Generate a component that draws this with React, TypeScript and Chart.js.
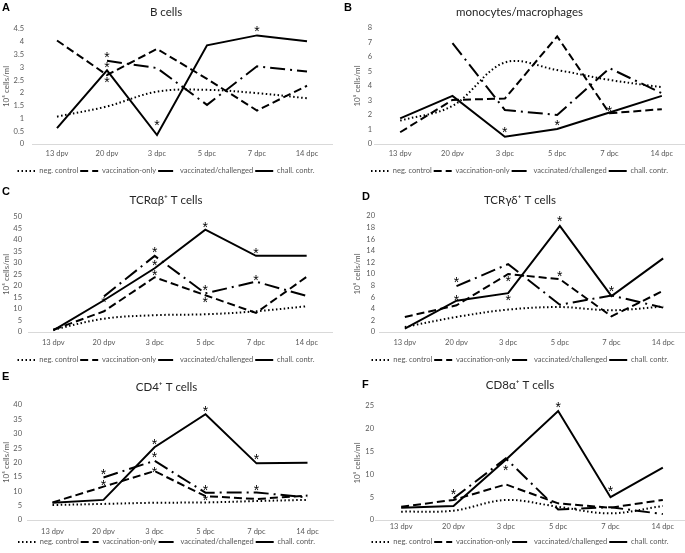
import React, { useEffect, useRef } from "react";
import { Chart, registerables } from "chart.js";
Chart.register(...registerables);

const categories = ["13 dpv", "20 dpv", "3 dpc", "5 dpc", "7 dpc", "14 dpc"];
const seriesNames = ["neg. control", "vaccination-only", "vaccinated/challenged", "chall. contr."];
const yAxisTitle = "10\u2075 cells/ml";

// A: B cells
const bNeg = [1.07, 1.47, 2.05, 2.12, 1.99, 1.79];
const bVacc = [4.05, 2.7, 3.72, 2.55, 1.31, 2.28];
const bVacChal = [null, 3.26, 2.97, 1.53, 3.04, 2.84];
const bChall = [0.62, 2.88, 0.35, 3.86, 4.25, 4.02];
const bStars = [[1, 3.49], [1, 3.1], [1, 2.51], [2, 0.81], [4, 4.5]];

// B: monocytes/macrophages
const mNeg = [1.61, 2.63, 5.62, 5.1, 4.42, 3.92];
const mVacc = [0.81, 3.04, 3.13, 7.42, 2.12, 2.4];
const mVacChal = [null, 6.96, 2.35, 2.0, 5.23, 3.5];
const mChall = [1.77, 3.32, 0.5, 1.04, 2.17, 3.32];
const mStars = [[2, 0.97], [3, 1.45], [4, 2.4]];

// C: TCRab+ T cells
const abNeg = [1.0, 5.8, 7.3, 7.7, 9.0, 11.2];
const abVacc = [1.0, 9.0, 23.8, 16.0, 8.3, 24.0];
const abVacChal = [null, 15.5, 33.1, 16.8, 21.9, 15.7];
const abChall = [0.7, 13.8, 27.7, 44.5, 33.1, 33.1];
const abStars = [[1, 14.1], [2, 35.7], [2, 29.9], [2, 25.5], [3, 46.6], [3, 19.0], [3, 13.8], [4, 35.3], [4, 23.6]];

// D: TCRgd+ T cells
const gdNeg = [0.86, 2.6, 3.86, 4.3, 3.75, 4.4];
const gdVacc = [2.6, 4.6, 10.0, 9.1, 2.7, 7.1];
const gdVacChal = [null, 7.9, 11.7, 4.7, 6.3, 4.2];
const gdChall = [0.6, 5.4, 6.7, 18.3, 6.2, 12.7];
const gdStars = [[1, 9.05], [1, 5.94], [2, 9.1], [2, 5.94], [3, 19.4], [3, 9.97], [4, 7.4]];

// E: CD4+ T cells
const cd4Neg = [5.2, 5.6, 6.0, 6.1, 6.6, 7.0];
const cd4Vacc = [6.1, 11.6, 17.0, 8.3, 7.3, 8.5];
const cd4VacChal = [null, 14.8, 20.6, 9.5, 9.6, 7.8];
const cd4Chall = [6.0, 7.0, 25.3, 36.8, 19.7, 19.9];
const cd4Stars = [[1, 16.8], [1, 12.75], [2, 27.2], [2, 22.6], [2, 17.4], [3, 38.5], [3, 11.2], [3, 7.8], [4, 21.8], [4, 11.2]];

// F: CD8a+ T cells
const cd8Neg = [1.83, 2.05, 4.4, 2.9, 1.46, 3.07];
const cd8Vacc = [2.9, 4.4, 7.8, 3.65, 2.7, 4.4];
const cd8VacChal = [null, 4.75, 13.5, 2.3, 2.8, 1.3];
const cd8Chall = [2.7, 3.07, 13.2, 23.9, 5.0, 11.5];
const cd8Stars = [[1, 6.2], [2, 11.5], [3, 25.2], [4, 6.8]];

const FONT = "Lato, 'Liberation Sans', sans-serif";
const GREY = "#595959";

const dashes = [[1.5, 2.5], [8, 4], [15, 5, 2, 5], []];

// layout: canvas box, padding, title gap, y-axis width, x-axis height, tick paddings
const panels = [
  { letter: "A", title: "B cells", series: [bNeg, bVacc, bVacChal, bChall], stars: bStars, max: 4.5, step: 0.5,
    left: 0, top: 0, w: 340, h: 180, pad: { left: 0, right: 8, top: 5, bottom: 0.75 }, tgap: 10.2, yw: 32, xh: 21.25, ytp: 8, xtp: 5.5, lx: 2, ly: 1 },
  { letter: "B", title: "monocytes/macrophages", series: [mNeg, mVacc, mVacChal, mChall], stars: mStars, max: 8, step: 1,
    left: 349, top: 0, w: 341, h: 180, pad: { left: 2, right: 2, top: 5, bottom: 0.75 }, tgap: 9.2, yw: 23, xh: 21.25, ytp: 2, xtp: 5.5, lx: 344, ly: 1 },
  { letter: "C", title: "TCR\u03b1\u03b2\u207a T cells", series: [abNeg, abVacc, abVacChal, abChall], stars: abStars, max: 50, step: 5,
    left: 0, top: 180, w: 340, h: 190, pad: { left: 0, right: 8, top: 13, bottom: 1.75 }, tgap: 10.2, yw: 28, xh: 22.25, ytp: 6, xtp: 6.5, lx: 2, ly: 185 },
  { letter: "D", title: "TCR\u03b3\u03b4\u207a T cells", series: [gdNeg, gdVacc, gdVacChal, gdChall], stars: gdStars, max: 20, step: 2,
    left: 349, top: 180, w: 341, h: 190, pad: { left: 2, right: 1, top: 13, bottom: 1.75 }, tgap: 9.2, yw: 28, xh: 22.25, ytp: 4, xtp: 6.5, lx: 362, ly: 190 },
  { letter: "E", title: "CD4\u207a T cells", series: [cd4Neg, cd4Vacc, cd4VacChal, cd4Chall], stars: cd4Stars, max: 40, step: 5,
    left: 0, top: 370, w: 340, h: 183, pad: { left: 0, right: 7, top: 10, bottom: 2.75 }, tgap: 11.2, yw: 27, xh: 16.25, ytp: 5, xtp: 7.5, lx: 2, ly: 370 },
  { letter: "F", title: "CD8\u03b1\u207a T cells", series: [cd8Neg, cd8Vacc, cd8VacChal, cd8Chall], stars: cd8Stars, max: 25, step: 5,
    left: 349, top: 370, w: 341, h: 183, pad: { left: 2, right: 1, top: 8, bottom: 2.75 }, tgap: 14.2, yw: 24, xh: 16.25, ytp: 1, xtp: 2.5, lx: 362, ly: 378 },
];

const starPlugin = {
  id: "stars",
  afterDatasetsDraw(chart: any, _args: any, opts: any) {
    const stars = opts.points || [];
    const ctx = chart.ctx;
    const xs = chart.scales.x;
    const ys = chart.scales.y;
    ctx.save();
    ctx.font = "14px 'Liberation Sans', sans-serif";
    ctx.fillStyle = "#000";
    ctx.textAlign = "center";
    ctx.textBaseline = "alphabetic";
    const m = ctx.measureText("*");
    const off = (m.actualBoundingBoxAscent - m.actualBoundingBoxDescent) / 2;
    for (const [i, v] of stars) {
      const x = xs.getPixelForValue(i);
      const y = ys.getPixelForValue(v);
      ctx.fillText("*", x, y + off);
    }
    ctx.restore();
  },
};

function Panel({ p }: { p: any }) {
  const ref = useRef<HTMLCanvasElement>(null);
  useEffect(() => {
    const tickFont = { family: FONT, size: 7.5 };
    const chart = new Chart(ref.current as HTMLCanvasElement, {
      type: "line",
      data: {
        labels: categories,
        datasets: p.series.map((d: any, i: number) => ({
          label: seriesNames[i],
          data: d,
          borderColor: "#000",
          backgroundColor: "#000",
          borderWidth: 2,
          borderDash: dashes[i],
          pointRadius: 0,
          tension: i === 0 ? 0.35 : 0,
          fill: false,
        })),
      },
      options: {
        animation: false,
        responsive: false,
        layout: { padding: p.pad },
        plugins: {
          title: { display: true, text: p.title, color: "#262626", font: { family: FONT, size: 11.5, weight: "normal" }, padding: { top: 0, bottom: p.tgap } },
          legend: {
            position: "bottom",
            maxHeight: 14,
            labels: {
              usePointStyle: true,
              pointStyleWidth: 18,
              boxHeight: 7,
              padding: 2,
              color: GREY,
              font: { family: FONT, size: 7.5 },
              generateLabels: (chart: any) =>
                chart.data.datasets.map((ds: any, i: number) => ({
                  text: ds.label,
                  fillStyle: "#000",
                  strokeStyle: "#000",
                  lineWidth: 2,
                  lineDash: ds.borderDash,
                  lineCap: "butt",
                  pointStyle: "line",
                  fontColor: GREY,
                  hidden: false,
                  datasetIndex: i,
                })),
            },
          },
          tooltip: { enabled: false },
          stars: { points: p.stars },
        } as any,
        scales: {
          x: {
            type: "category",
            offset: true,
            grid: { display: false, drawTicks: false },
            border: { display: true, color: "#d9d9d9", width: 1 },
            ticks: { font: tickFont, color: GREY, padding: p.xtp, maxRotation: 0 },
            afterFit: (s: any) => { s.height = p.xh; },
          },
          y: {
            min: 0,
            max: p.max,
            grid: { display: false, drawTicks: false },
            border: { display: false },
            ticks: { stepSize: p.step, autoSkip: false, font: tickFont, color: GREY, padding: p.ytp, callback: (v: any) => String(v) },
            title: { display: true, text: yAxisTitle, color: GREY, font: { family: FONT, size: 8 }, padding: 2 },
            afterFit: (s: any) => { s.width = p.yw; },
          },
        },
      },
      plugins: [starPlugin],
    });
    return () => chart.destroy();
  }, []);
  return (
    <>
      <canvas ref={ref} width={p.w} height={p.h} style={{ position: "absolute", left: p.left, top: p.top, width: p.w, height: p.h }} />
      <div style={{ position: "absolute", left: p.lx, top: p.ly, font: "bold 11px 'Liberation Sans', Arial, sans-serif", color: "#000" }}>{p.letter}</div>
    </>
  );
}

export default function App() {
  return (
    <div style={{ position: "fixed", left: 0, top: 0, width: 685, height: 553, overflow: "hidden", background: "#fff" }}>
      {panels.map((p) => (
        <Panel key={p.letter} p={p} />
      ))}
    </div>
  );
}
